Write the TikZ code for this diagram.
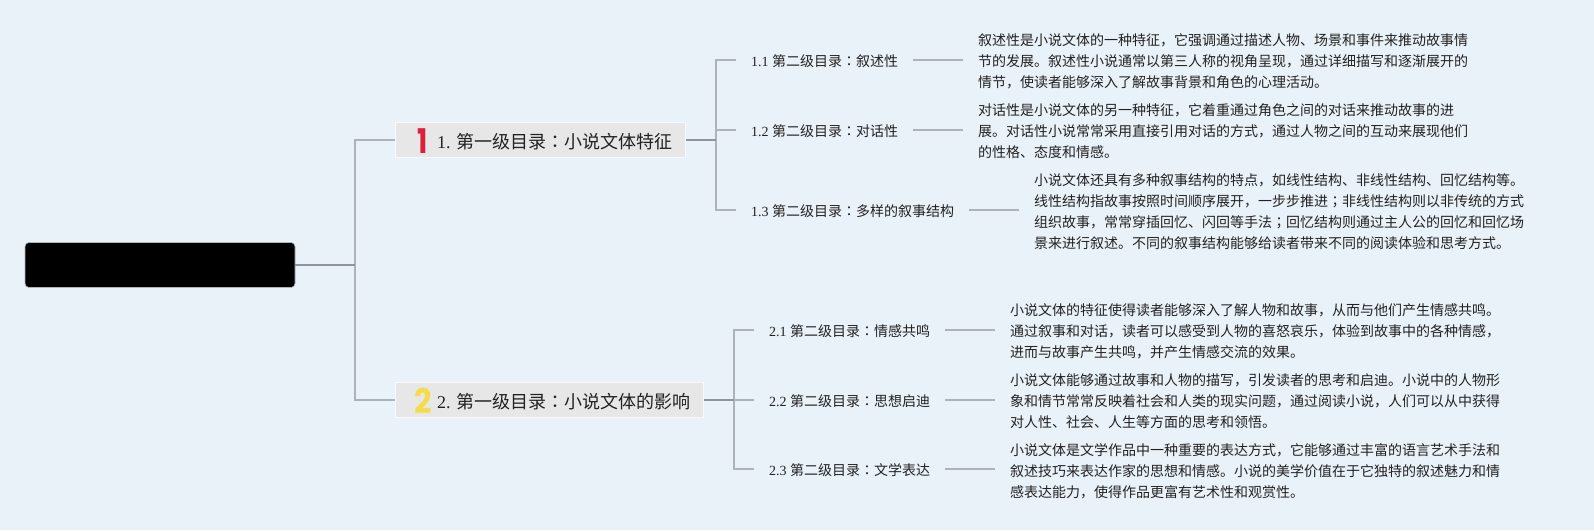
\documentclass[tikz,border=0pt]{standalone}
\usepackage{fontspec}
\setmainfont{Liberation Serif}
\newfontfamily\cjkfont{Noto Sans CJK SC}
\newfontfamily\colonfont{Noto Sans CJK TC}
\newfontfamily\iconfont{Poppins}[BoldFont={Poppins Bold}]
\definecolor{pagebg}{HTML}{E9F1F9}
\definecolor{topicbg}{HTML}{E7E7E8}
\definecolor{branchline}{HTML}{ADB3B9}
\definecolor{mainline}{HTML}{8F9499}
\definecolor{inkgray}{HTML}{222222}
\definecolor{iconred}{HTML}{DE1F3A}
\definecolor{iconyellow}{HTML}{F5DC4D}
\newcommand{\cn}[1]{{\cjkfont #1}}
\newcommand{\cl}{{\colonfont ：}}
\newcommand{\sm}{{\colonfont ；}}

\begin{document}
\begin{tikzpicture}[x=1pt,y=-1pt,
    branch/.style={draw=branchline,line width=1.3pt},
    mainbranch/.style={draw=mainline,line width=1.3pt},
    rootbox/.style={fill=black,draw=branchline,line width=0.6pt,rounded corners=4pt,minimum width=270pt,minimum height=45pt,inner sep=0pt},
    topicbox/.style={fill=topicbg,draw=white!60!pagebg,line width=1pt,anchor=west,text=inkgray,minimum height=35pt,inner sep=0pt,font=\fontsize{18}{22}\selectfont},
    topictext/.style={anchor=west,inner sep=0pt,text=inkgray,font=\fontsize{18}{22}\selectfont},
    subtopic/.style={anchor=west,inner xsep=15pt,inner ysep=2pt,text height=14pt,text depth=1.4pt,text=inkgray,font=\fontsize{14}{18}\selectfont},
    detail/.style={anchor=west,inner xsep=15pt,inner ysep=0pt,align=left,text=inkgray,font=\cjkfont\fontsize{14}{21}\selectfont},
    numicon/.style={inner sep=0pt,font=\iconfont\bfseries\fontsize{34}{34}\selectfont}]
        % Background
        \fill[pagebg] (0,0) rectangle (1594,530);
        \useasboundingbox (0,0) rectangle (1594,530);

        % Root and first level
        \node[rootbox] (root) at (160,265) {};
        \node[topicbox,minimum width=290pt] (first) at (395,140) {};
        \node[topicbox,minimum width=308pt] (second) at (395,400) {};
        \node[numicon,text=iconred,xscale=0.8] (firstnum) at (423,141) {1};
        \node[numicon,text=iconyellow,xscale=0.9] (secondnum) at (423,401) {2};
        \node[topictext] (firsttext) at (437,142) {1. \cn{第一级目录}\cl\cn{小说文体特征}};
        \node[topictext] (secondtext) at (437,402) {2. \cn{第一级目录}\cl\cn{小说文体的影响}};

        % Second level, first branch
        \node[subtopic] (sa) at (736,60) {1.1 \cn{第二级目录}\cl\cn{叙述性}};
        \node[subtopic] (sb) at (736,130) {1.2 \cn{第二级目录}\cl\cn{对话性}};
        \node[subtopic] (sc) at (736,210) {1.3 \cn{第二级目录}\cl\cn{多样的叙事结构}};

        % Second level, second branch
        \node[subtopic] (sd) at (754,330) {2.1 \cn{第二级目录}\cl\cn{情感共鸣}};
        \node[subtopic] (se) at (754,400) {2.2 \cn{第二级目录}\cl\cn{思想启迪}};
        \node[subtopic] (sf) at (754,469) {2.3 \cn{第二级目录}\cl\cn{文学表达}};

        % Details
        \node[detail] (da) at (963,61.3) {叙述性是小说文体的一种特征，它强调通过描述人物、场景和事件来推动故事情\\节的发展。叙述性小说通常以第三人称的视角呈现，通过详细描写和逐渐展开的\\情节，使读者能够深入了解故事背景和角色的心理活动。};
        \node[detail] (db) at (963,131.3) {对话性是小说文体的另一种特征，它着重通过角色之间的对话来推动故事的进\\展。对话性小说常常采用直接引用对话的方式，通过人物之间的互动来展现他们\\的性格、态度和情感。};
        \node[detail] (dc) at (1019,211.3) {小说文体还具有多种叙事结构的特点，如线性结构、非线性结构、回忆结构等。\\线性结构指故事按照时间顺序展开，一步步推进\sm 非线性结构则以非传统的方式\\组织故事，常常穿插回忆、闪回等手法\sm 回忆结构则通过主人公的回忆和回忆场\\景来进行叙述。不同的叙事结构能够给读者带来不同的阅读体验和思考方式。};
        \node[detail] (dd) at (995,331.5) {小说文体的特征使得读者能够深入了解人物和故事，从而与他们产生情感共鸣。\\通过叙事和对话，读者可以感受到人物的喜怒哀乐，体验到故事中的各种情感，\\进而与故事产生共鸣，并产生情感交流的效果。};
        \node[detail] (de) at (995,401.5) {小说文体能够通过故事和人物的描写，引发读者的思考和启迪。小说中的人物形\\象和情节常常反映着社会和人类的现实问题，通过阅读小说，人们可以从中获得\\对人性、社会、人生等方面的思考和领悟。};
        \node[detail] (df) at (995,471) {小说文体是文学作品中一种重要的表达方式，它能够通过丰富的语言艺术手法和\\叙述技巧来表达作家的思想和情感。小说的美学价值在于它独特的叙述魅力和情\\感表达能力，使得作品更富有艺术性和观赏性。};

        % Junctions
        \coordinate (jroot) at (355,265);
        \coordinate (jfirst) at (716,140);
        \coordinate (jsecond) at (734,400);

        % Connectors
        \draw[branch] (jroot) |- (first.west);
        \draw[branch] (jroot) |- (second.west);
        \foreach \kid in {sa,sb,sc} {
          \draw[branch] (jfirst) |- (\kid.west);
        }
        \foreach \kid in {sd,se,sf} {
          \draw[branch] (jsecond) |- (\kid.west);
        }
        \foreach \kid/\note in {sa/da,sb/db,sc/dc,sd/dd,se/de,sf/df} {
          \draw[branch] (\kid.east) -- (\kid.east -| \note.west);
        }
        \draw[mainbranch] (root.east) -- (jroot);
        \draw[mainbranch] (first.east) -- (jfirst);
        \draw[mainbranch] (second.east) -- (jsecond);
\end{tikzpicture}
\end{document}
